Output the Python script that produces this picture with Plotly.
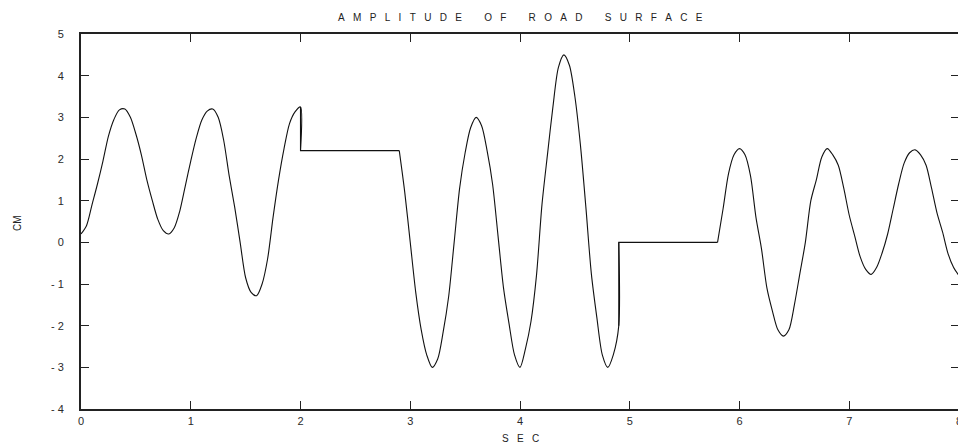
import plotly.graph_objects as go

# Road surface amplitude (cm) sampled over time (s); repeated x marks a step.
time_s = [
    0.00, 0.05, 0.10, 0.15, 0.20, 0.25, 0.30, 0.35, 0.40, 0.45,
    0.50, 0.55, 0.60, 0.65, 0.70, 0.75, 0.80, 0.85, 0.90, 0.95,
    1.00, 1.05, 1.10, 1.15, 1.20, 1.25, 1.30, 1.35, 1.40, 1.45,
    1.50, 1.55, 1.60, 1.65, 1.70, 1.75, 1.80, 1.85, 1.90, 1.95,
    2.00, 2.00, 2.90,
    2.95, 3.00, 3.05, 3.10, 3.15, 3.20, 3.25, 3.30, 3.35, 3.40,
    3.45, 3.50, 3.55, 3.60, 3.65, 3.70, 3.75, 3.80, 3.85, 3.90,
    3.95, 4.00, 4.05, 4.10, 4.15, 4.20, 4.25, 4.30, 4.35, 4.40,
    4.45, 4.50, 4.55, 4.60, 4.65, 4.70, 4.75, 4.80, 4.85, 4.90,
    4.90, 5.80,
    5.85, 5.90, 5.95, 6.00, 6.05, 6.10, 6.15, 6.20, 6.25, 6.30,
    6.35, 6.40, 6.45, 6.50, 6.55, 6.60, 6.65, 6.70, 6.75, 6.80,
    6.85, 6.90, 6.95, 7.00, 7.05, 7.10, 7.15, 7.20, 7.25, 7.30,
    7.35, 7.40, 7.45, 7.50, 7.55, 7.60, 7.65, 7.70, 7.75, 7.80,
    7.85, 7.90, 7.95, 8.00,
]
amplitude_cm = [
    0.20, 0.40, 0.90, 1.40, 1.95, 2.55, 2.95, 3.18, 3.20, 3.00,
    2.60, 2.10, 1.50, 1.00, 0.55, 0.28, 0.20, 0.35, 0.75, 1.35,
    1.95, 2.50, 2.93, 3.15, 3.20, 3.00, 2.45, 1.60, 0.85, 0.00,
    -0.85, -1.20, -1.28, -1.00, -0.40, 0.60, 1.50, 2.25, 2.85, 3.13,
    3.25, 2.20, 2.20,
    1.20, 0.00, -1.20, -2.10, -2.70, -3.00, -2.80, -2.15, -1.30, 0.00,
    1.30, 2.15, 2.75, 3.00, 2.80, 2.20, 1.40, 0.15, -1.10, -1.95,
    -2.70, -3.00, -2.55, -1.90, -0.80, 0.90, 2.10, 3.25, 4.20, 4.50,
    4.25, 3.50, 2.35, 0.85, -0.75, -1.80, -2.70, -3.00, -2.70, -2.00,
    0.00, 0.00,
    0.80, 1.65, 2.10, 2.25, 2.10, 1.60, 0.60, -0.15, -1.10, -1.65,
    -2.10, -2.25, -2.10, -1.50, -0.75, 0.00, 1.00, 1.50, 2.05, 2.25,
    2.10, 1.85, 1.30, 0.65, 0.15, -0.35, -0.65, -0.77, -0.60, -0.25,
    0.20, 0.80, 1.40, 1.90, 2.15, 2.22, 2.10, 1.85, 1.30, 0.70,
    0.25, -0.27, -0.60, -0.80,
]

x_ticks = [0, 1, 2, 3, 4, 5, 6, 7, 8]
y_ticks = [5, 4, 3, 2, 1, 0, -1, -2, -3, -4]
y_tick_text = ["5", "4", "3", "2", "1", "0", "- 1", "- 2", "- 3", "- 4"]


def spaced(text, gap=3, word_gap=8):
    nb = "\u00a0"
    words = text.split(" ")
    return (nb * word_gap).join((nb * gap).join(w) for w in words)


FONT = "Liberation Sans, Arial, sans-serif"
INK = "#222222"
CURVE = dict(color="#111111", width=1.1)

# Split the profile into wavy stretches (smoothed) and the step/flat
# stretches between them (straight), joined end to end.
breaks = [i for i in range(1, len(time_s)) if time_s[i] == time_s[i - 1]]
pieces = []
start = 0
for b in breaks:
    flat_end = b + 1  # index of the end of the flat run after the step
    pieces.append(("spline", start, b))          # wave up to the step
    pieces.append(("linear", b - 1, flat_end))   # step + flat run
    start = flat_end
pieces.append(("spline", start, len(time_s) - 1))

fig = go.Figure()
for shape, i0, i1 in pieces:
    fig.add_trace(go.Scatter(
        x=time_s[i0:i1 + 1], y=amplitude_cm[i0:i1 + 1], mode="lines",
        line=dict(shape=shape, smoothing=0.8, **CURVE) if shape == "spline"
        else dict(shape="linear", **CURVE),
        hoverinfo="skip", showlegend=False,
    ))

axis_common = dict(
    showgrid=False, zeroline=False, showline=True, linecolor=INK, linewidth=2,
    mirror="ticks", ticks="inside", ticklen=8, tickwidth=1.3, tickcolor=INK,
    tickfont=dict(family=FONT, size=11, color="#2a2a2a"),
)

fig.update_layout(
    width=966, height=446,
    margin=dict(l=81, r=4, t=34, b=37),
    paper_bgcolor="white", plot_bgcolor="white",
    xaxis=dict(range=[0, 8], tickvals=x_ticks, ticklabelstandoff=1, **axis_common),
    yaxis=dict(range=[-4, 5], tickvals=y_ticks, ticktext=y_tick_text,
               ticklabelstandoff=13, **axis_common),
    annotations=[
        dict(text=spaced("AMPLITUDE OF ROAD SURFACE"), xref="paper", yref="paper",
             x=0.5, y=1, yshift=24, showarrow=False,
             font=dict(family=FONT, size=10, color="#222222")),
        dict(text=spaced("SEC"), xref="paper", yref="paper",
             x=0.5, y=0, yshift=-37, showarrow=False,
             font=dict(family=FONT, size=10, color="#222222")),
        dict(text="CM", xref="paper", yref="paper", x=0, xshift=-71, y=0.5,
             yshift=-2, textangle=-90, showarrow=False,
             font=dict(family=FONT, size=10, color="#222222")),
    ],
)

fig.write_html(
    "out.html",
    post_script="document.body.style.overflow='hidden';document.body.style.margin='0';",
)
